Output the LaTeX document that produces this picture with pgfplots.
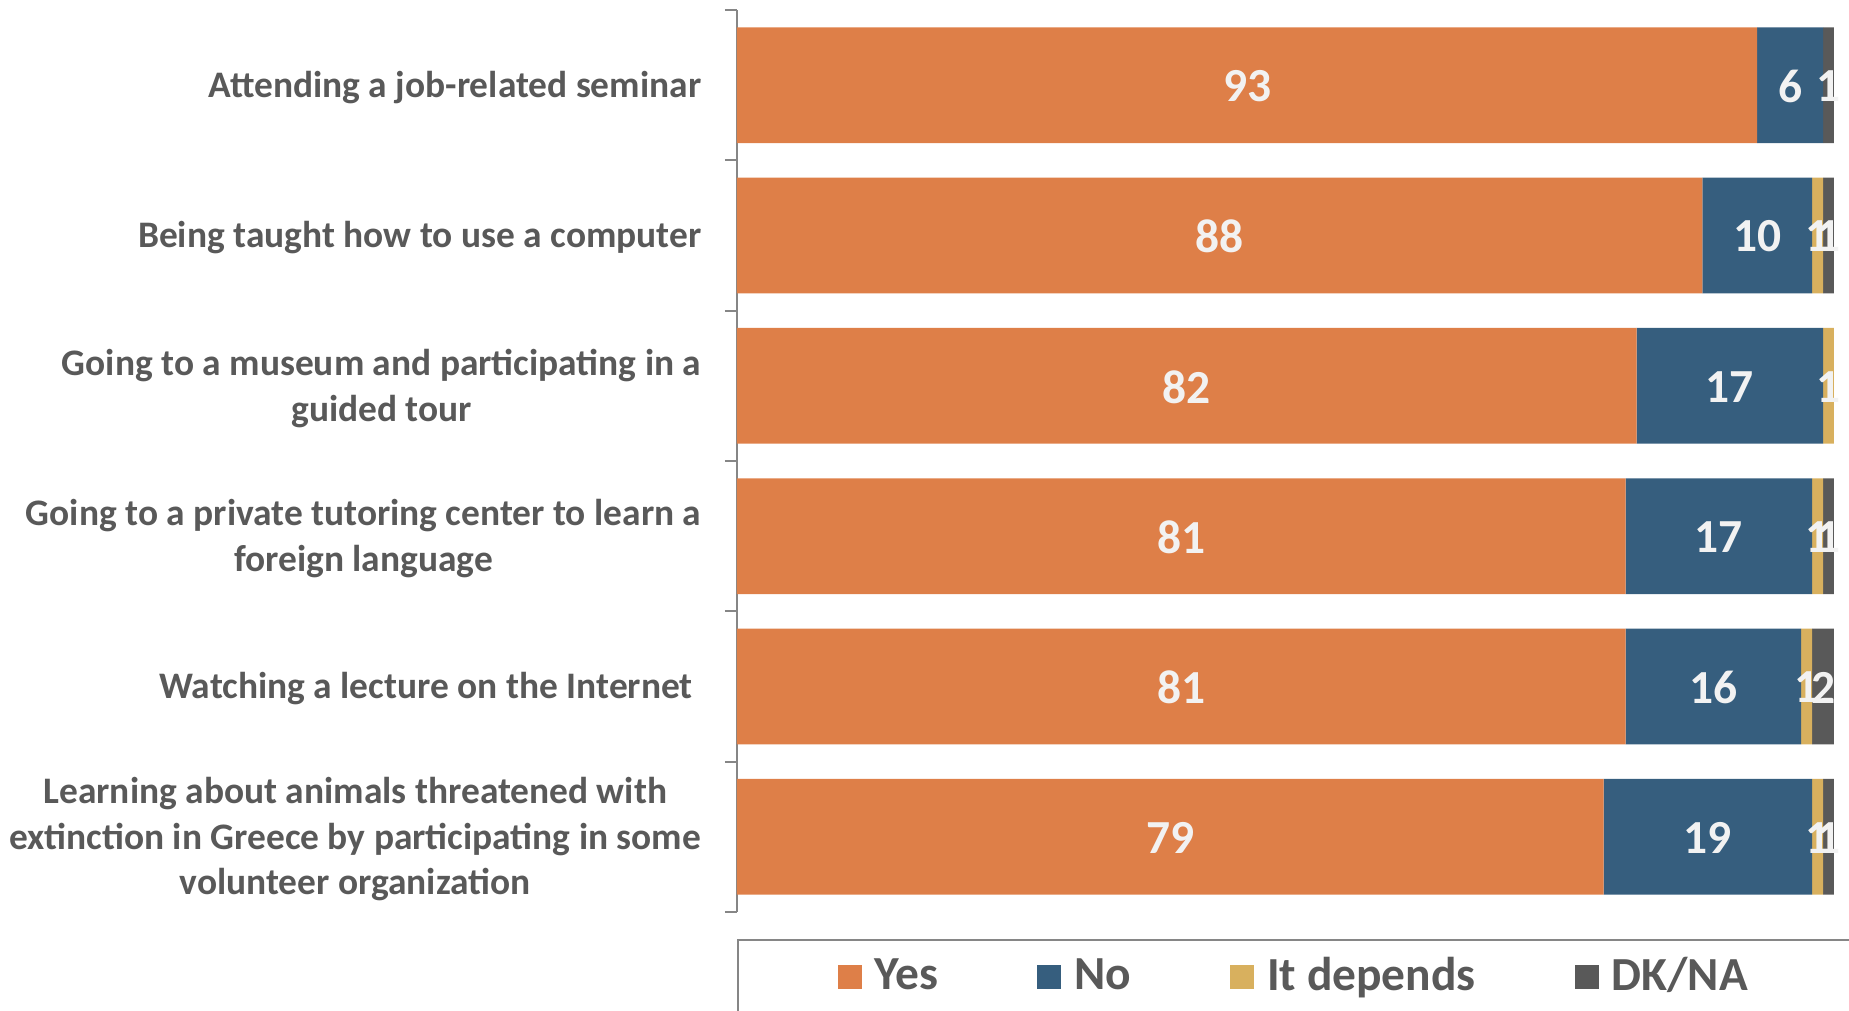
\documentclass[border=0pt]{standalone}
\usepackage{fontspec}
\setmainfont{Carlito}
\usepackage{pgfplots}
\pgfplotsset{compat=1.18}
\definecolor{cyes}{HTML}{DE7F48}
\definecolor{cno}{HTML}{365E7E}
\definecolor{cdep}{HTML}{D8B05E}
\definecolor{cdk}{HTML}{595959}
\definecolor{labgray}{HTML}{595959}
\definecolor{axgray}{HTML}{868686}
\definecolor{valwhite}{HTML}{F2F2F2}
\begin{document}
\begin{tikzpicture}
  \begin{axis}[
      at={(7.37cm,-9.12cm)}, anchor=south west,
      scale only axis,
      width=10.97cm, height=9.02cm,
      xbar stacked,
      bar width=0.77,
      xmin=0, xmax=100,
      ymin=0.5, ymax=6.5,
      y dir=reverse,
      axis x line=none,
      axis y line*=left,
      y axis line style={-, draw=axgray, line width=0.6pt},
      ytick={1,...,6},
      yticklabels={
        {Attending a job-related seminar},
        {Being taught how to use a computer},
        {Going to a museum and participating in a\\guided tour},
        {Going to a private tutoring center to learn a\\foreign language},
        {Watching a lecture on the Internet\kern0.23em},
        {Learning about animals threatened with\\extinction in Greece by participating in some\\volunteer organization}},
      major tick length=0pt,
      minor ytick={0.5,1.5,...,6.5},
      minor tick length=0.12cm,
      tick align=outside,
      minor tick style={draw=axgray, line width=0.6pt},
      yticklabel style={align=center, font=\fontsize{10.65}{13}\selectfont\bfseries,
        text=labgray, inner sep=0pt, xshift=-0.35cm, yshift=-0.025cm},
      visualization depends on={rawx \as \rawx},
      nodes near coords={\ifdim\rawx pt>0pt \pgfmathprintnumber[fixed,precision=0,assume math mode=true]{\rawx}\fi},
      every node near coord/.append style={anchor=center, yshift=-0.01cm,
        font=\fontsize{13.5}{16}\selectfont\bfseries, text=valwhite},
      legend columns=4,
      legend image code/.code={\fill[#1, draw=none] (0cm,-0.12cm) rectangle (0.24cm,0.12cm);
        \path (0.30cm,0cm);},
      legend style={at={(0.0912,-0.072)}, anchor=west, draw=none, fill=none, inner sep=0pt,
        font=\fontsize{13.5}{16}\selectfont\bfseries, text=labgray,
        /tikz/every even column/.append style={column sep=0.92cm}},
    ]
    \addplot+[fill=cyes, draw=none] coordinates {(93,1) (88,2) (82,3) (81,4) (81,5) (79,6)};
    \addplot+[fill=cno, draw=none] coordinates {(6,1) (10,2) (17,3) (17,4) (16,5) (19,6)};
    \addplot+[fill=cdep, draw=none] coordinates {(0,1) (1,2) (1,3) (1,4) (1,5) (1,6)};
    \addplot+[fill=cdk, draw=none] coordinates {(1,1) (1,2) (0,3) (1,4) (2,5) (1,6)};
    \legend{Yes, No, It depends, DK/NA}
  \end{axis}
  \draw[draw=axgray, line width=0.6pt] (7.38,-9.40) rectangle (19.5,-11);
  \pgfresetboundingbox
  \path[use as bounding box] (0,0) rectangle (18.49,-10.11);
\end{tikzpicture}
\end{document}
